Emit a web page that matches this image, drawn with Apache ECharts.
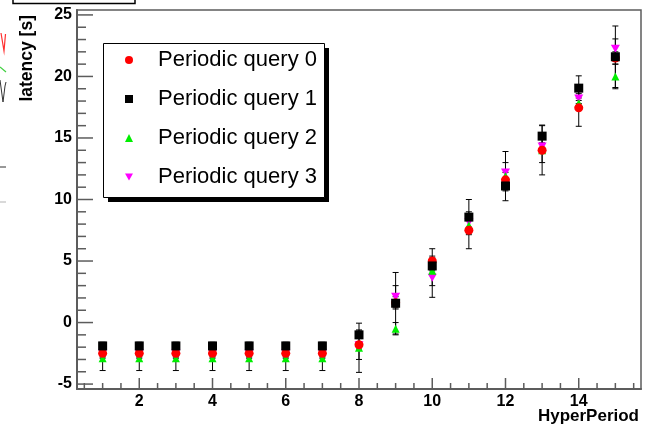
<!DOCTYPE html>
<html>
<head>
<meta charset="utf-8">
<script src="https://cdn.jsdelivr.net/npm/echarts@6/dist/echarts.min.js"></script>
<style>
html, body { margin: 0; padding: 0; background: #fff; }
#chart { width: 653px; height: 430px; }
</style>
</head>
<body>
<div id="chart"></div>
<script>
// values
var hyperPeriods = [1, 2, 3, 4, 5, 6, 7, 8, 9, 10, 11, 12, 13, 14, 15];

var query0 = [-2.5, -2.5, -2.5, -2.5, -2.5, -2.5, -2.5, -1.8, 1.6, 5.0, 7.5, 11.6, 14.0, 17.45, 21.5];
var query0Err = [0.4, 0.4, 0.4, 0.4, 0.4, 0.4, 0.4, 1.2, 0.5, 1.0, 1.5, 0.6, 1.0, 1.5, 0.5];

var query1 = [-1.9, -1.9, -1.9, -1.9, -1.9, -1.9, -1.9, -1.0, 1.57, 4.6, 8.57, 11.1, 15.15, 19.05, 21.6];
var query1Err = [0.3, 0.3, 0.3, 0.3, 0.3, 0.3, 0.3, 0.3, 2.5, 0.4, 1.43, 0.4, 0.9, 1.0, 2.5];

var query2 = [-2.9, -2.9, -2.9, -2.9, -2.9, -2.9, -2.9, -2.05, -0.5, 4.2, 7.9, 11.9, 14.0, 17.85, 20.0];
var query2Err = [1.0, 1.0, 1.0, 1.0, 1.0, 1.0, 1.0, 2.0, 0.5, 1.2, 0.4, 2.0, 2.0, 0.4, 1.0];

var query3 = [-2.5, -2.5, -2.5, -2.5, -2.5, -2.5, -2.5, -1.85, 2.1, 3.65, 8.15, 12.2, 14.3, 18.2, 22.25];
var query3Err = [0.3, 0.3, 0.3, 0.3, 0.3, 0.3, 0.3, 0.3, 0.9, 1.6, 0.4, 0.8, 0.3, 0.4, 0.8];

var queryNames = ['Periodic query 0', 'Periodic query 1', 'Periodic query 2', 'Periodic query 3'];

var xMajorTicks = [2, 4, 6, 8, 10, 12, 14];
var xMinorTicks = [0.5, 1, 1.5, 2.5, 3, 3.5, 4.5, 5, 5.5, 6.5, 7, 7.5, 8.5, 9, 9.5, 10.5, 11, 11.5, 12.5, 13, 13.5, 14.5, 15, 15.5];
var yMajorTicks = [-5, 0, 5, 10, 15, 20, 25];
var yMinorTicks = [-4, -3, -2, -1, 1, 2, 3, 4, 6, 7, 8, 9, 11, 12, 13, 14, 16, 17, 18, 19, 21, 22, 23, 24];

var X_MIN = 0.3, X_MAX = 15.7;
var Y_MIN = -5.4, Y_MAX = 25.4;

var FONT = '"Liberation Sans", Arial, Helvetica, sans-serif';
var AXIS_COLOR = '#5c5c5c';

function points(values) {
    return hyperPeriods.map(function (x, i) { return [x, values[i]]; });
}

function errorRanges(values, errs) {
    return hyperPeriods.map(function (x, i) { return [x, values[i] - errs[i], values[i] + errs[i]]; });
}

// vertical error bar with small caps
function renderErrorBar(params, api) {
    var x = api.value(0);
    var top = api.coord([x, api.value(2)]);
    var bottom = api.coord([x, api.value(1)]);
    var style = { stroke: '#000', lineWidth: 1 };
    return {
        type: 'group',
        children: [
            { type: 'line', shape: { x1: top[0], y1: top[1], x2: bottom[0], y2: bottom[1] }, style: style },
            { type: 'line', shape: { x1: top[0] - 3, y1: top[1], x2: top[0] + 3, y2: top[1] }, style: style },
            { type: 'line', shape: { x1: bottom[0] - 3, y1: bottom[1], x2: bottom[0] + 3, y2: bottom[1] }, style: style }
        ]
    };
}

function errorSeries(values, errs) {
    return {
        type: 'custom',
        renderItem: renderErrorBar,
        encode: { x: 0, y: [1, 2] },
        data: errorRanges(values, errs),
        z: 2,
        silent: true
    };
}

// ROOT style ticks, drawn inwards from the frame
function tickSeries(values, onXAxis, length) {
    return {
        type: 'custom',
        silent: true,
        clip: false,
        z: 20,
        encode: { x: 0, y: 1 },
        data: values.map(function (v) { return onXAxis ? [v, Y_MIN] : [X_MIN, v]; }),
        renderItem: function (params, api) {
            var p = api.coord([api.value(0), api.value(1)]);
            var shape = onXAxis
                ? { x1: p[0], y1: p[1], x2: p[0], y2: p[1] - length }
                : { x1: p[0], y1: p[1], x2: p[0] + length, y2: p[1] };
            return {
                type: 'group',
                children: [{ type: 'line', shape: shape, style: { stroke: AXIS_COLOR, lineWidth: 1.5 } }]
            };
        }
    };
}

var downTriangle = 'path://M0,0 L10,0 L5,9 Z';

var chart = echarts.init(document.getElementById('chart'), null, { renderer: 'canvas' });

var option = {
    animation: false,
    backgroundColor: '#fff',
    grid: {
        left: 77, right: 12, top: 10, bottom: 41,
        show: true, borderColor: AXIS_COLOR, borderWidth: 1.5, backgroundColor: 'transparent'
    },
    legend: {
        data: queryNames,
        orient: 'vertical',
        left: 103,
        top: 43,
        itemWidth: 8,
        itemHeight: 8,
        itemGap: 17,
        padding: [6, 9, 9, 22],
        z: 30,
        textStyle: {
            fontFamily: FONT,
            fontSize: 22,
            color: '#000',
            padding: [0, 0, 0, 20]
        }
    },
    xAxis: {
        type: 'value',
        min: X_MIN,
        max: X_MAX,
        splitLine: { show: false },
        axisLine: { show: true, onZero: false, lineStyle: { color: AXIS_COLOR, width: 2 } },
        axisTick: { show: false },
        axisLabel: {
            customValues: xMajorTicks,
            margin: 5,
            fontFamily: FONT,
            fontWeight: 'bold',
            fontSize: 16,
            color: '#000'
        }
    },
    yAxis: {
        type: 'value',
        min: Y_MIN,
        max: Y_MAX,
        splitLine: { show: false },
        axisLine: { show: true, onZero: false, lineStyle: { color: AXIS_COLOR, width: 2 } },
        axisTick: { show: false },
        axisLabel: {
            customValues: yMajorTicks,
            margin: 5,
            fontFamily: FONT,
            fontWeight: 'bold',
            fontSize: 16,
            color: '#000'
        }
    },
    series: [
        tickSeries(xMajorTicks, true, 11),
        tickSeries(xMinorTicks, true, 6),
        tickSeries(yMajorTicks, false, 16),
        tickSeries(yMinorTicks, false, 9),
        errorSeries(query3, query3Err),
        errorSeries(query2, query2Err),
        errorSeries(query0, query0Err),
        errorSeries(query1, query1Err),
        {
            name: queryNames[3], type: 'scatter', symbol: downTriangle, symbolSize: [9, 8],
            itemStyle: { color: '#ff00ff', opacity: 1 }, data: points(query3), z: 3
        },
        {
            name: queryNames[2], type: 'scatter', symbol: 'triangle', symbolSize: [8, 8],
            itemStyle: { color: '#00ee00', opacity: 1 }, data: points(query2), z: 3
        },
        {
            name: queryNames[0], type: 'scatter', symbol: 'circle', symbolSize: 9,
            itemStyle: { color: '#ff0000', opacity: 1 }, data: points(query0), z: 3
        },
        {
            name: queryNames[1], type: 'scatter', symbol: 'rect', symbolSize: 9,
            itemStyle: { color: '#000', opacity: 1 }, data: points(query1), z: 3
        }
    ],
    graphic: [
        // legend frame with its drop shadow, under the legend
        { type: 'rect', z: 25, shape: { x: 108, y: 48, width: 221, height: 154 }, style: { fill: '#000' } },
        { type: 'rect', z: 26, shape: { x: 103.5, y: 43.5, width: 221, height: 154 }, style: { fill: '#fff', stroke: '#000', lineWidth: 1 } },
        // axis titles
        {
            type: 'text', x: 27, y: 15, rotation: Math.PI / 2,
            style: { text: 'latency [s]', fontFamily: FONT, fontWeight: 'bold', fontSize: 17.5, fill: '#000', align: 'right', verticalAlign: 'middle' }
        },
        {
            type: 'text', x: 639, y: 416,
            style: { text: 'HyperPeriod', fontFamily: FONT, fontWeight: 'bold', fontSize: 17, fill: '#000', align: 'right', verticalAlign: 'middle' }
        },
        // leftovers of a neighbouring pad, cut at the edge
        { type: 'rect', shape: { x: 13, y: -10, width: 122, height: 13.5 }, style: { fill: '#fff', stroke: '#000', lineWidth: 1.5 } },
        { type: 'polyline', shape: { points: [[1, 33], [4, 51], [5.5, 34]] }, style: { stroke: '#ff3030', lineWidth: 1.2, fill: null } },
        { type: 'polyline', shape: { points: [[0, 67], [6, 72]] }, style: { stroke: '#40d040', lineWidth: 1.2, fill: null } },
        { type: 'polyline', shape: { points: [[0, 80], [3, 102], [5, 86], [6, 82]] }, style: { stroke: '#333', lineWidth: 1, fill: null } },
        { type: 'line', shape: { x1: 0, y1: 167, x2: 6, y2: 167 }, style: { stroke: '#333', lineWidth: 1 } },
        { type: 'line', shape: { x1: 0, y1: 202, x2: 6, y2: 202 }, style: { stroke: '#ccc', lineWidth: 1.5 } }
    ]
};

chart.setOption(option);
</script>
</body>
</html>
